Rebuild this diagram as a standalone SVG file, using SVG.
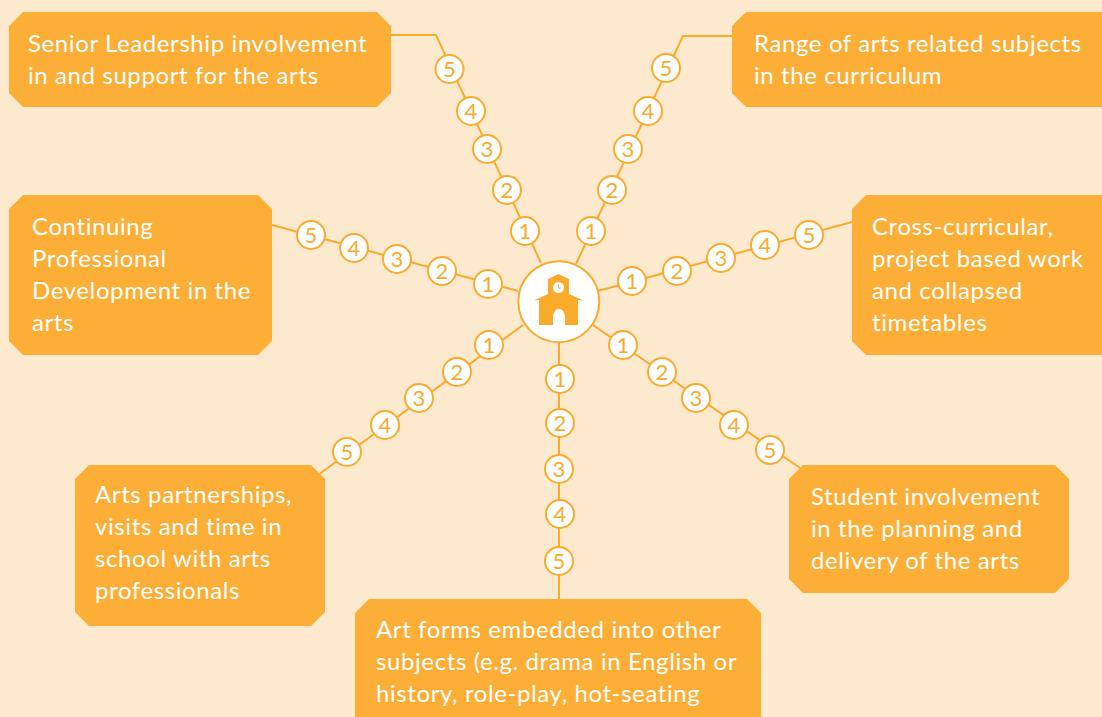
<svg xmlns="http://www.w3.org/2000/svg" width="1102" height="717" viewBox="0 0 1102 717">
<style>
.box{fill:#fdae36}
.t{font-family:"Lato","Liberation Sans",sans-serif;font-size:24px;fill:#fff;letter-spacing:0.6px;font-weight:400}
.c{fill:none;stroke:#fbab2c;stroke-width:2}
.d circle{fill:#fff;stroke:#fbab2c;stroke-width:2}
.d text{font-family:"Lato","Liberation Sans",sans-serif;font-size:22px;fill:#fbab2c;text-anchor:middle}
</style>
<rect width="1102" height="717" fill="#fde9cd"/>
<g id="connectors" class="c">
<path d="M541 263L436 35H391"/>
<path d="M576 264L683 36H732"/>
<path d="M518 291L272 225"/>
<path d="M598 291L852 222"/>
<path d="M523 325L318 475"/>
<path d="M559 343V599"/>
<path d="M593 325L803 470"/>
</g>
<g id="box-senior"><path class="box" d="M23 12H377L391 26V93L377 107H23L9 93V26Z"/>
<text class="t" x="28" y="52">Senior Leadership involvement</text><text class="t" x="28" y="84">in and support for the arts</text></g>
<g id="box-range"><path class="box" d="M746 12H1102V107H746L732 93V26Z"/>
<text class="t" x="754" y="52">Range of arts related subjects</text><text class="t" x="754" y="84">in the curriculum</text></g>
<g id="box-cpd"><path class="box" d="M23 195H258L272 209V341L258 355H23L9 341V209Z"/>
<text class="t" x="32" y="235">Continuing</text><text class="t" x="32" y="267">Professional</text><text class="t" x="32" y="299">Development in the</text><text class="t" x="32" y="331">arts</text></g>
<g id="box-cross"><path class="box" d="M866 195H1102V355H866L852 341V209Z"/>
<text class="t" x="872" y="235">Cross-curricular,</text><text class="t" x="872" y="267">project based work</text><text class="t" x="872" y="299">and collapsed</text><text class="t" x="872" y="331">timetables</text></g>
<g id="box-partners"><path class="box" d="M89 465H311L325 479V612L311 626H89L75 612V479Z"/>
<text class="t" x="95" y="503">Arts partnerships,</text><text class="t" x="95" y="535">visits and time in</text><text class="t" x="95" y="567">school with arts</text><text class="t" x="95" y="599">professionals</text></g>
<g id="box-student"><path class="box" d="M803 465H1055L1069 479V579L1055 593H803L789 579V479Z"/>
<text class="t" x="811" y="505">Student involvement</text><text class="t" x="811" y="537">in the planning and</text><text class="t" x="811" y="569">delivery of the arts</text></g>
<g id="box-artforms"><path class="box" d="M369 599H747L761 613V717H355V613Z"/>
<text class="t" x="376" y="638">Art forms embedded into other</text><text class="t" x="376" y="670">subjects (e.g. drama in English or</text><text class="t" x="376" y="702">history, role-play, hot-seating</text></g>
<g id="hub">
<circle cx="558.800" cy="301.700" r="40.500" fill="#fff" stroke="#fbab2c" stroke-width="2"/>
<path fill="#fbab2c" d="M534 300.500L548 294V279L558.500 274L569 279V294L583.500 300.500L578 300V325H565V318C565 306 553 306 553 318V325H539V300Z"/>
<circle cx="558.500" cy="287.500" r="5.500" fill="#fff"/>
<path d="M558.500 284.500V288H561" fill="none" stroke="#fbab2c" stroke-width="1"/>
</g>
<g id="dots" class="d">
<g id="tl-1"><circle cx="525" cy="231" r="14"/><text x="525" y="239">1</text></g>
<g id="tl-2"><circle cx="507" cy="190" r="14"/><text x="507" y="198">2</text></g>
<g id="tl-3"><circle cx="487" cy="149" r="14"/><text x="487" y="157">3</text></g>
<g id="tl-4"><circle cx="471" cy="111" r="14"/><text x="471" y="119">4</text></g>
<g id="tl-5"><circle cx="449.500" cy="69" r="14"/><text x="449.500" y="77">5</text></g>
<g id="tr-1"><circle cx="591" cy="231" r="14"/><text x="591" y="239">1</text></g>
<g id="tr-2"><circle cx="612" cy="190" r="14"/><text x="612" y="198">2</text></g>
<g id="tr-3"><circle cx="628" cy="149" r="14"/><text x="628" y="157">3</text></g>
<g id="tr-4"><circle cx="648" cy="111" r="14"/><text x="648" y="119">4</text></g>
<g id="tr-5"><circle cx="666" cy="68" r="14"/><text x="666" y="76">5</text></g>
<g id="l-1"><circle cx="488" cy="284" r="14"/><text x="488" y="292">1</text></g>
<g id="l-2"><circle cx="442" cy="271" r="14"/><text x="442" y="279">2</text></g>
<g id="l-3"><circle cx="397" cy="259" r="14"/><text x="397" y="267">3</text></g>
<g id="l-4"><circle cx="354" cy="248" r="14"/><text x="354" y="256">4</text></g>
<g id="l-5"><circle cx="311" cy="235" r="14"/><text x="311" y="243">5</text></g>
<g id="r-1"><circle cx="632" cy="281" r="14"/><text x="632" y="289">1</text></g>
<g id="r-2"><circle cx="677" cy="271" r="14"/><text x="677" y="279">2</text></g>
<g id="r-3"><circle cx="721" cy="258" r="14"/><text x="721" y="266">3</text></g>
<g id="r-4"><circle cx="765" cy="245" r="14"/><text x="765" y="253">4</text></g>
<g id="r-5"><circle cx="809" cy="235" r="14"/><text x="809" y="243">5</text></g>
<g id="bl-1"><circle cx="489" cy="345" r="14"/><text x="489" y="353">1</text></g>
<g id="bl-2"><circle cx="457" cy="372" r="14"/><text x="457" y="380">2</text></g>
<g id="bl-3"><circle cx="419" cy="398" r="14"/><text x="419" y="406">3</text></g>
<g id="bl-4"><circle cx="385" cy="425" r="14"/><text x="385" y="433">4</text></g>
<g id="bl-5"><circle cx="347" cy="452" r="14"/><text x="347" y="460">5</text></g>
<g id="b-1"><circle cx="560" cy="379" r="14"/><text x="560" y="387">1</text></g>
<g id="b-2"><circle cx="560" cy="423" r="14"/><text x="560" y="431">2</text></g>
<g id="b-3"><circle cx="559" cy="469" r="14"/><text x="559" y="477">3</text></g>
<g id="b-4"><circle cx="560" cy="514" r="14"/><text x="560" y="522">4</text></g>
<g id="b-5"><circle cx="559" cy="561" r="14"/><text x="559" y="569">5</text></g>
<g id="br-1"><circle cx="623" cy="345" r="14"/><text x="623" y="353">1</text></g>
<g id="br-2"><circle cx="662" cy="372" r="14"/><text x="662" y="380">2</text></g>
<g id="br-3"><circle cx="696" cy="398" r="14"/><text x="696" y="406">3</text></g>
<g id="br-4"><circle cx="734" cy="425" r="14"/><text x="734" y="433">4</text></g>
<g id="br-5"><circle cx="770" cy="450" r="14"/><text x="770" y="458">5</text></g>
</g>
</svg>
